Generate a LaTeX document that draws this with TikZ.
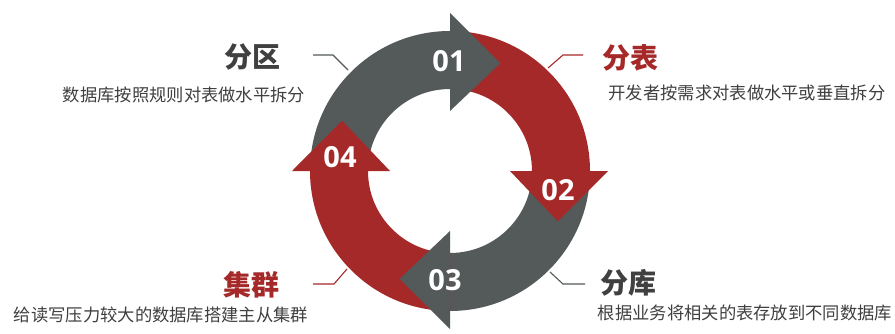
\documentclass[tikz,border=0pt]{standalone}
\usepackage{fontspec}
\setmainfont{Noto Sans CJK SC}
\newfontfamily\numfont{Open Sans}
\usetikzlibrary{calc}
\definecolor{ringgray}{RGB}{84,90,90}
\definecolor{ringred}{RGB}{166,41,41}
\definecolor{txtgray}{RGB}{64,64,64}
\begin{document}
\begin{tikzpicture}[x=1pt,y=1pt,
  numlabel/.style={text=white,font=\numfont\bfseries\fontsize{29}{29}\selectfont,inner sep=0pt},
  titlelabel/.style={font=\bfseries\fontsize{28}{28}\selectfont,inner sep=0pt},
  desclabel/.style={text=txtgray,font=\fontsize{17.3}{17.3}\selectfont,inner sep=0pt},
  leader/.style={line width=1.1pt}]
\useasboundingbox (0,0) rectangle (895,333);
\fill[white] (0,0) rectangle (895,333);
\coordinate (c) at (450,162);
\def\Ro{140}\def\Ri{82}\def\Hi{60}\def\Ho{158}\def\Ht{119}\def\Hl{25}
% bodies
\foreach \a/\col in {180/ringgray,90/ringred,0/ringgray,-90/ringred}{
  \pgfmathsetmacro{\b}{\a-90}
  \fill[\col] ($(c)+(\a:\Ro)$) arc[start angle=\a,end angle=\b,radius=\Ro]
    -- ($(c)+(\b:\Ri)$) arc[start angle=\b,end angle=\a,radius=\Ri] -- cycle;
}
% heads
\foreach \a/\col in {180/ringgray,90/ringred,0/ringgray,-90/ringred}{
  \pgfmathsetmacro{\b}{\a-90}
  \pgfmathsetmacro{\t}{\a-90-\Hl}
  \fill[\col] ($(c)+(\b:\Hi)$) -- ($(c)+(\b:\Ho)$) -- ($(c)+(\t:\Ht)$) -- cycle;
}
\node[numlabel] (n01) at (449,272) {01};
\node[numlabel] (n02) at (558,143) {02};
\node[numlabel] (n03) at (445,53) {03};
\node[numlabel] (n04) at (340,176) {04};
% titles and descriptions
\node[titlelabel,text=txtgray] (t1) at (252,276) {分区};
\node[desclabel] (d1) at (184,238) {数据库按照规则对表做水平拆分};
\node[titlelabel,text=ringred] (t2) at (630,275) {分表};
\node[desclabel] (d2) at (747,240) {开发者按需求对表做水平或垂直拆分};
\node[titlelabel,text=txtgray] (t3) at (628,50) {分库};
\node[desclabel] (d3) at (745,20) {根据业务将相关的表存放到不同数据库};
\node[titlelabel,text=ringred] (t4) at (251,48) {集群};
\node[desclabel] (d4) at (161,18) {给读写压力较大的数据库搭建主从集群};
% leaders
\coordinate (l1a) at (313,278); \coordinate (l1b) at (333,278); \coordinate (l1c) at (348,263);
\coordinate (l2a) at (583,278); \coordinate (l2b) at (563,278); \coordinate (l2c) at (548,265);
\coordinate (l3a) at (585,49); \coordinate (l3b) at (563,49); \coordinate (l3c) at (550,61);
\coordinate (l4a) at (313,49); \coordinate (l4b) at (334,49); \coordinate (l4c) at (347,64);
\draw[leader,ringgray] (l1a) -- (l1b) -- (l1c);
\draw[leader,ringred] (l2a) -- (l2b) -- (l2c);
\draw[leader,ringgray] (l3a) -- (l3b) -- (l3c);
\draw[leader,ringred] (l4a) -- (l4b) -- (l4c);
\end{tikzpicture}
\end{document}
